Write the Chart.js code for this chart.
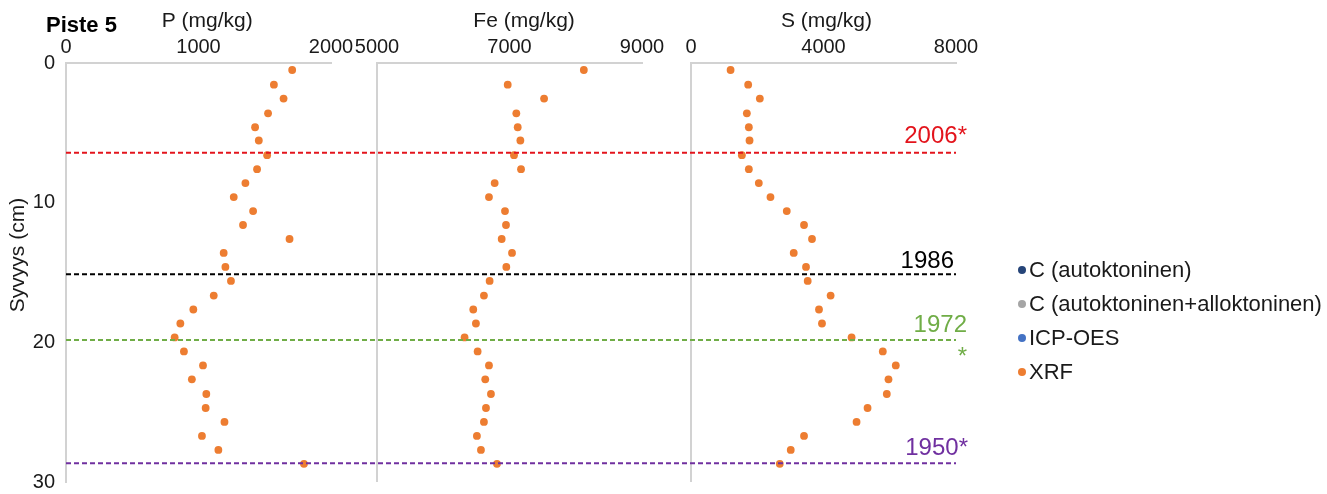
<!DOCTYPE html>
<html>
<head>
<meta charset="utf-8">
<script src="https://cdn.jsdelivr.net/npm/chart.js@4.4.1/dist/chart.umd.min.js"></script>
<style>
html,body{margin:0;padding:0;background:#fff;}
#wrap{position:relative;width:1327px;height:494px;overflow:hidden;}
#legend{position:absolute;left:1018px;top:253px;font-family:'Liberation Sans',Arial,sans-serif;font-size:22px;color:#1a1a1a;}
.li{height:34px;display:flex;align-items:center;white-space:nowrap;}
.dot{width:8px;height:8px;border-radius:50%;margin-right:3px;flex:none;}
</style>
</head>
<body>
<div id="wrap"><canvas id="c" width="1327" height="494"></canvas><div id="legend"></div></div>
<script>
// ---- data ----
const depths = [0.5,1.55,2.55,3.6,4.6,5.55,6.6,7.6,8.6,9.6,10.6,11.6,12.6,13.6,14.6,15.6,16.65,17.65,18.65,19.65,20.65,21.65,22.65,23.7,24.7,25.7,26.7,27.7,28.7];
const pValues  = [1707,1569,1642,1525,1427,1455,1518,1442,1354,1266,1412,1336,1687,1190,1203,1245,1115,961,863,820,890,1034,950,1059,1054,1196,1026,1150,1796];
const feValues = [8122,6973,7522,7103,7124,7164,7068,7174,6776,6690,6932,6947,6882,7038,6952,6700,6614,6453,6493,6322,6519,6690,6634,6720,6645,6614,6508,6569,6811];
const sValues  = [1195,1726,2078,1686,1746,1767,1536,1746,2047,2399,2891,3412,3653,3101,3472,3523,4215,3864,3954,4848,5790,6182,5962,5911,5330,4998,3412,3011,2680];

const pTicks = [0,1000,2000];
const feTicks = [5000,7000,9000];
const sTicks = [0,4000,8000];
const depthTicks = [0,10,20,30];

const yearLabels = [['2006*'],['1986'],['1972','*'],['1950*']];
const yearDepths = [6.42,15.13,19.83,28.66];

const legendLabels = ['C (autoktoninen)','C (autoktoninen+alloktoninen)','ICP-OES','XRF'];

// ---- styles ----
const FONT = "'Liberation Sans', Arial, sans-serif";
const TXT = '#1a1a1a';
const AXIS = '#d2d2d2';
const ORANGE = '#ed7d31';
const legendColors = ['#264478','#a5a5a5','#4472c4',ORANGE];
const yearColors = ['#e3141c','#000000','#70ad47','#7030a0'];
const yearLabelStyle = [ {dx:11, dy:[-9.4]}, {dx:-2, dy:[-6]}, {dx:11, dy:[-8.3, 24.5]}, {dx:12, dy:[-8.3]} ];

Chart.defaults.font.family = FONT;
Chart.defaults.color = TXT;

const pts = vals => vals.map((v,i)=>({x:v, y:depths[i]}));
const setTicks = arr => (s => { s.ticks = arr.map(v=>({value:v})); });

function xPanel(min, max, ticks, title, weight, order){
  return {
    type:'linear', axis:'x', position:'top', stack:'panels', stackWeight:weight, weight:order,
    min:min, max:max,
    afterBuildTicks:setTicks(ticks),
    afterFit:s=>{ s.height = 63; },
    grid:{display:true, drawTicks:false, drawOnChartArea:true, lineWidth:2,
          color:ctx=> ctx.index===0 ? AXIS : 'rgba(0,0,0,0)'},
    border:{display:true, color:AXIS, width:2},
    ticks:{padding:4, font:{size:20}, color:TXT, autoSkip:false, maxRotation:0, callback:v=>String(v)},
    title:{display:true, text:title, font:{size:21}, color:TXT, padding:{top:9,bottom:0}}
  };
}
function gap(weight, order){
  return {type:'linear', axis:'x', position:'top', stack:'panels', stackWeight:weight, weight:order, min:0, max:1, display:false};
}

const lineSets = yearDepths.map((d,i)=>({
  label: yearLabels[i].join(' '),
  data:[{x:0,y:d},{x:1,y:d}],
  xAxisID:'xAll', yAxisID:'y',
  showLine:true, pointRadius:0, borderColor:yearColors[i], backgroundColor:yearColors[i],
  borderWidth:2, borderDash:[5,3], order:0, inLegend:false
}));

const pointStyle = {pointRadius:3.9, pointHoverRadius:3.9, pointBorderWidth:0, backgroundColor:ORANGE, borderColor:ORANGE, showLine:false, order:1, yAxisID:'y'};

const datasets = [
  {label:legendLabels[0], data:[], xAxisID:'xP', yAxisID:'y', backgroundColor:legendColors[0], borderColor:legendColors[0], inLegend:true},
  {label:legendLabels[1], data:[], xAxisID:'xP', yAxisID:'y', backgroundColor:legendColors[1], borderColor:legendColors[1], inLegend:true},
  {label:legendLabels[2], data:[], xAxisID:'xP', yAxisID:'y', backgroundColor:legendColors[2], borderColor:legendColors[2], inLegend:true},
  Object.assign({label:legendLabels[3], data:pts(pValues), xAxisID:'xP', inLegend:true}, pointStyle),
  Object.assign({label:legendLabels[3], data:pts(feValues), xAxisID:'xFe', inLegend:false}, pointStyle),
  Object.assign({label:legendLabels[3], data:pts(sValues), xAxisID:'xS', inLegend:false}, pointStyle),
  ...lineSets
];

const annot = {
  id:'annot',
  afterDatasetsDraw(chart){
    const ctx = chart.ctx, y = chart.scales.y, xs = chart.scales.xS;
    ctx.save();
    ctx.font = '24px ' + FONT;
    ctx.textAlign = 'right';
    ctx.textBaseline = 'alphabetic';
    yearDepths.forEach((d,i)=>{
      const py = y.getPixelForValue(d);
      ctx.fillStyle = yearColors[i];
      yearLabels[i].forEach((t,j)=>{
        ctx.fillText(t, xs.right + yearLabelStyle[i].dx, py + yearLabelStyle[i].dy[j]);
      });
    });
    ctx.font = 'bold 22px ' + FONT;
    ctx.textAlign = 'left';
    ctx.fillStyle = '#000';
    ctx.fillText('Piste 5', 46, 31.5);
    ctx.restore();
  }
};

const chart = new Chart(document.getElementById('c'), {
  type:'scatter',
  data:{datasets},
  options:{
    responsive:false, animation:false, events:[],
    layout:{padding:{left:0, top:0, right:371, bottom:12}},
    plugins:{legend:{display:false}, tooltip:{enabled:false}},
    scales:{
      y:{type:'linear', position:'left', reverse:true, min:0, max:30,
         afterBuildTicks:setTicks(depthTicks),
         afterFit:s=>{ s.width = 66; s.paddingTop = 0; s.paddingBottom = 0; },
         grid:{display:false, drawTicks:false},
         border:{display:true, color:AXIS, width:2},
         ticks:{padding:11, font:{size:20}, color:TXT},
         title:{display:true, text:'      Syvyys (cm)', font:{size:21}, color:TXT, padding:{top:6,bottom:0}}},
      xP: xPanel(0, 2000, pTicks, '   P (mg/kg)', 265, 5),
      xGap1: gap(46, 4),
      xFe: xPanel(5000, 9000, feTicks, '     Fe (mg/kg)', 265, 3),
      xGap2: gap(49, 2),
      xS: xPanel(0, 8000, sTicks, ' S (mg/kg)', 265, 1),
      xAll:{type:'linear', axis:'x', position:'bottom', min:0, max:1, display:false}
    }
  },
  plugins:[annot]
});

// HTML legend built from the chart's own legend items
const items = Chart.defaults.plugins.legend.labels.generateLabels(chart)
  .filter(it => chart.data.datasets[it.datasetIndex].inLegend);
const leg = document.getElementById('legend');
items.forEach(it=>{
  const row = document.createElement('div'); row.className='li';
  const dot = document.createElement('span'); dot.className='dot'; dot.style.background = it.fillStyle;
  const txt = document.createElement('span'); txt.textContent = it.text;
  row.appendChild(dot); row.appendChild(txt); leg.appendChild(row);
});
</script>
</body>
</html>
